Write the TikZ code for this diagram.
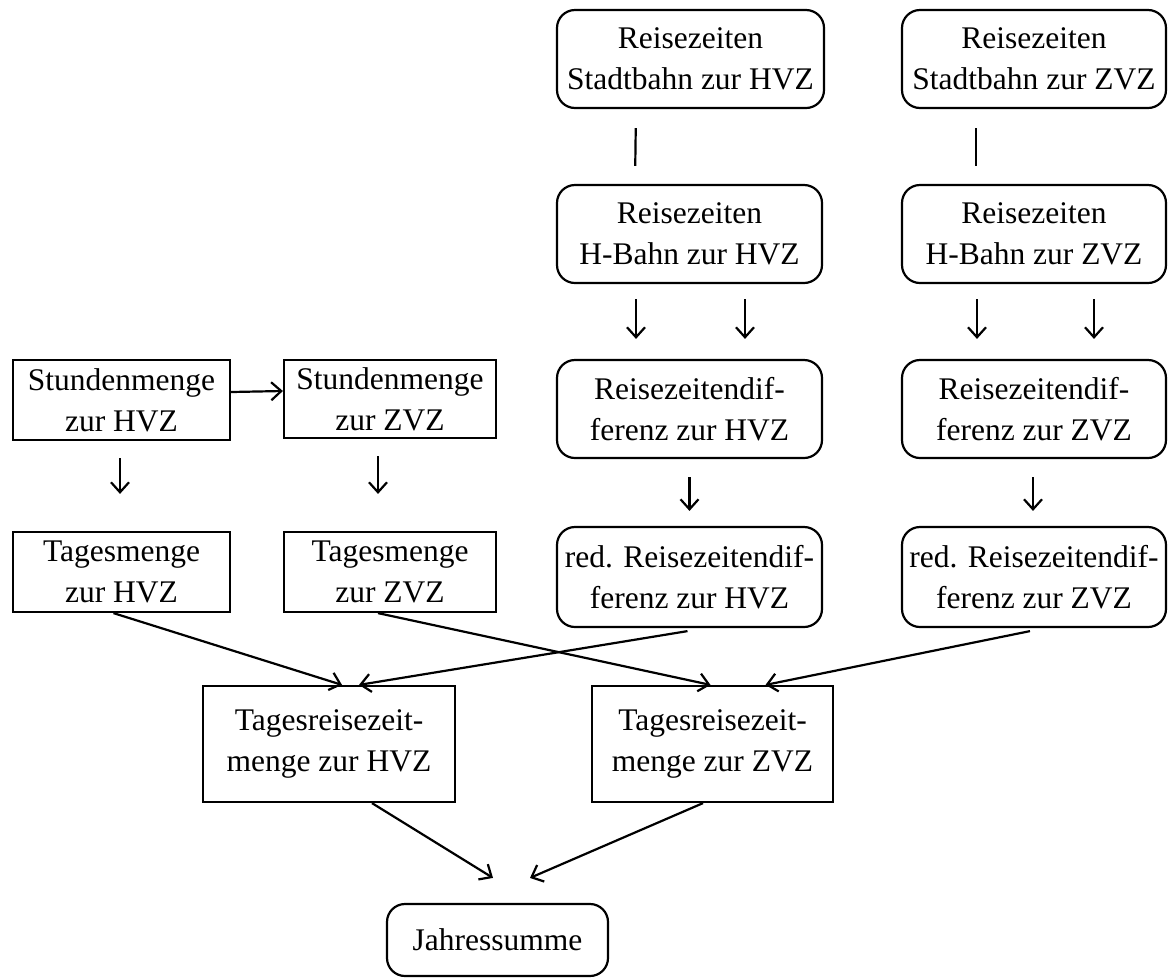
\documentclass[tikz,border=0pt]{standalone}
\usepackage{fontspec}
\setmainfont{Liberation Serif}
\usetikzlibrary{arrows.meta}
\begin{document}
\begin{tikzpicture}[x=1pt,y=-1pt,
  base/.style={draw, line width=2.2pt, align=center, inner sep=0pt,
    font=\fontsize{31.5}{41}\selectfont},
  rbox/.style={base, rounded corners=18pt},
  sbox/.style={base},
  conn/.style={line width=2.2pt, -{Straight Barb[length=10pt,width=18pt,line width=2.2pt]}},
  plain/.style={line width=2.2pt}]
\useasboundingbox (0,0) rectangle (1169,978);
% right columns
\node[rbox, minimum width=267, minimum height=98] (A1) at (690.5,59) {Reisezeiten\\Stadtbahn zur HVZ};
\node[rbox, minimum width=264, minimum height=98] (B1) at (1034,59) {Reisezeiten\\Stadtbahn zur ZVZ};
\node[rbox, minimum width=265, minimum height=98] (A2) at (689.5,234) {Reisezeiten\\H-Bahn zur HVZ};
\node[rbox, minimum width=264, minimum height=98] (B2) at (1034,234) {Reisezeiten\\H-Bahn zur ZVZ};
\node[rbox, minimum width=265, minimum height=98] (A3) at (689.5,409) {Reisezeitendif-\\ferenz zur HVZ};
\node[rbox, minimum width=264, minimum height=98] (B3) at (1034,409) {Reisezeitendif-\\ferenz zur ZVZ};
\node[rbox, minimum width=265, minimum height=100] (A4) at (689.5,577) {red. Reisezeitendif-\\ferenz zur HVZ};
\node[rbox, minimum width=264, minimum height=100] (B4) at (1034,577) {red. Reisezeitendif-\\ferenz zur ZVZ};
% left columns
\node[sbox, minimum width=217, minimum height=80] (SH) at (121.5,400) {Stundenmenge\\zur HVZ};
\node[sbox, minimum width=212, minimum height=78] (SZ) at (390,399) {Stundenmenge\\zur ZVZ};
\node[sbox, minimum width=217, minimum height=80] (TH) at (121.5,572) {Tagesmenge\\zur HVZ};
\node[sbox, minimum width=212, minimum height=80] (TZ) at (390,572) {Tagesmenge\\zur ZVZ};
% bottom
\node[sbox, minimum width=252, minimum height=116] (RH) at (329,744) {Tagesreisezeit-\\menge zur HVZ};
\node[sbox, minimum width=241, minimum height=116] (RZ) at (712.5,744) {Tagesreisezeit-\\menge zur ZVZ};
\node[rbox, minimum width=221, minimum height=72] (J) at (497.5,940) {Jahressumme};
% connectors
\draw[plain, shorten <=19pt, shorten >=18pt] ([xshift=-54.5pt]A1.south) -- ([xshift=-54.5pt]A2.north);
\draw[plain, shorten <=19pt, shorten >=18pt] ([xshift=-58pt]B1.south) -- ([xshift=-58pt]B2.north);
\draw[conn, shorten <=15pt, shorten >=20pt] ([xshift=-53.5pt]A2.south) -- ([xshift=-53.5pt]A3.north);
\draw[conn, shorten <=15pt, shorten >=20pt] ([xshift=55.5pt]A2.south) -- ([xshift=55.5pt]A3.north);
\draw[conn, shorten <=15pt, shorten >=20pt] ([xshift=-57pt]B2.south) -- ([xshift=-57pt]B3.north);
\draw[conn, shorten <=15pt, shorten >=20pt] ([xshift=60pt]B2.south) -- ([xshift=60pt]B3.north);
\draw[conn, shorten <=18pt, shorten >=15pt] (A3.south) -- (A4.north);
\draw[conn, shorten <=18pt, shorten >=15pt] ([xshift=-1pt]B3.south) -- ([xshift=-1pt]B4.north);
\draw[conn] ([yshift=8pt]SH.east) -- ([yshift=8pt]SZ.west);
\draw[conn, shorten <=17pt, shorten >=37pt] ([xshift=-1.5pt]SH.south) -- ([xshift=-1.5pt]TH.north);
\draw[conn, shorten <=17pt, shorten >=37pt] ([xshift=-12pt]SZ.south) -- ([xshift=-12pt]TZ.north);
\draw[conn] ([xshift=-8pt]TH.south) -- ([xshift=13pt]RH.north);
\draw[conn] ([xshift=-2pt, yshift=-3pt]A4.south) -- ([xshift=30pt]RH.north);
\draw[conn] ([xshift=-12pt]TZ.south) -- ([xshift=-2pt]RZ.north);
\draw[conn] ([xshift=-4pt, yshift=-3pt]B4.south) -- ([xshift=53pt]RZ.north);
\draw[conn] ([xshift=43pt]RH.south) -- ([xshift=-4.5pt, yshift=25pt]J.north);
\draw[conn] ([xshift=-9.5pt]RZ.south) -- ([xshift=32.5pt, yshift=25pt]J.north);
\end{tikzpicture}
\end{document}
